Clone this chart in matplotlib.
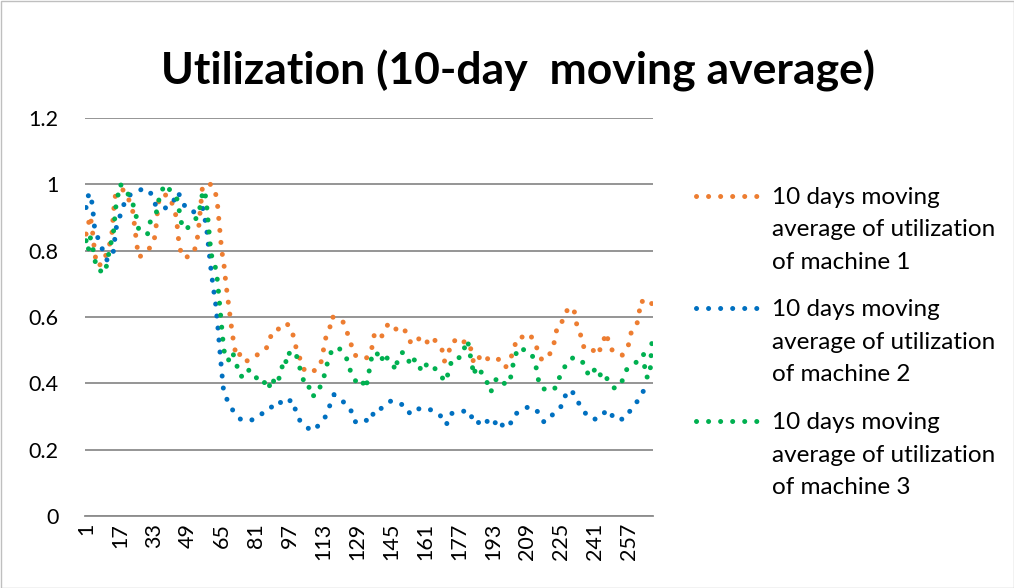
import matplotlib.pyplot as plt
from matplotlib.lines import Line2D
from matplotlib.patches import Rectangle

plt.rcParams['font.family'] = ['Lato', 'DejaVu Sans']

# 数据：10日移动平均利用率（从图上读取的折点）
title = 'Utilization (10-day  moving average)'
labels = ['10 days moving\naverage of utilization\nof machine 1',
          '10 days moving\naverage of utilization\nof machine 2',
          '10 days moving\naverage of utilization\nof machine 3']
colors = ['#ED7D31', '#0070C0', '#00B050']
n_days = 268
tick_days = list(range(1, 258, 16))

m1_days = [1, 3, 4, 5, 6, 9, 11, 13, 14, 15, 18, 20, 23, 24, 25, 26, 30, 33, 34, 35, 36, 40,
           43, 44, 45, 47, 51, 53, 54, 55, 56, 60, 62, 63, 64, 65, 66, 67, 68, 69, 70, 71, 72,
           74, 76, 78, 82, 85, 87, 88, 91, 93, 96, 98, 100, 101, 104, 107, 109, 112, 113, 114,
           116, 117, 119, 122, 124, 126, 127, 129, 131, 134, 136, 137, 140, 142, 144, 145, 148,
           151, 153, 155, 157, 160, 162, 164, 166, 169, 170, 172, 173, 176, 178, 180, 182, 183,
           184, 188, 191, 194, 196, 199, 201, 203, 204, 207, 210, 212, 214, 216, 218, 221, 222,
           223, 225, 226, 228, 231, 232, 233, 235, 236, 240, 242, 245, 246, 247, 249, 251, 254,
           257, 258, 261, 262, 263, 265, 267, 268]
m1_vals = [0.85, 0.905, 0.86, 0.80, 0.755, 0.76, 0.80, 0.835, 0.92, 0.975, 0.985, 0.975, 0.92,
           0.87, 0.815, 0.78, 0.80, 0.825, 0.87, 0.94, 0.967, 0.968, 0.92, 0.875, 0.81, 0.778,
           0.786, 0.815, 0.86, 0.93, 0.998, 1.0, 0.977, 0.94, 0.87, 0.80, 0.762, 0.70, 0.65, 0.60,
           0.55, 0.51, 0.478, 0.49, 0.468, 0.468, 0.487, 0.497, 0.515, 0.54, 0.566, 0.56, 0.578,
           0.563, 0.51, 0.49, 0.44, 0.447, 0.437, 0.466, 0.50, 0.535, 0.567, 0.602, 0.592, 0.589,
           0.557, 0.52, 0.49, 0.48, 0.474, 0.478, 0.51, 0.547, 0.534, 0.565, 0.582, 0.574, 0.56,
           0.567, 0.534, 0.517, 0.53, 0.542, 0.524, 0.54, 0.527, 0.50, 0.466, 0.486, 0.522, 0.532,
           0.519, 0.528, 0.52, 0.488, 0.458, 0.489, 0.471, 0.466, 0.474, 0.449, 0.471, 0.502,
           0.535, 0.54, 0.55, 0.532, 0.502, 0.471, 0.472, 0.50, 0.527, 0.56, 0.567, 0.60, 0.62,
           0.629, 0.595, 0.561, 0.538, 0.504, 0.502, 0.485, 0.519, 0.552, 0.537, 0.502, 0.489,
           0.485, 0.517, 0.55, 0.581, 0.615, 0.65, 0.637, 0.645, 0.64]

m2_days = [1, 2, 3, 4, 5, 7, 9, 11, 13, 14, 15, 18, 20, 24, 29, 32, 34, 38, 42, 44, 46, 48, 53,
           56, 57, 58, 59, 60, 61, 62, 63, 64, 65, 66, 69, 71, 74, 78, 82, 87, 89, 92, 94, 98,
           100, 102, 104, 107, 111, 114, 116, 118, 120, 124, 127, 128, 130, 131, 135, 137, 139,
           142, 145, 148, 151, 154, 157, 160, 163, 166, 168, 171, 173, 177, 181, 183, 185, 189,
           192, 196, 198, 201, 203, 206, 210, 214, 217, 219, 222, 225, 226, 230, 232, 235, 238,
           242, 246, 248, 250, 255, 258, 261, 264, 267, 268]
m2_vals = [0.93, 0.965, 0.973, 0.936, 0.87, 0.83, 0.80, 0.77, 0.785, 0.80, 0.864, 0.924, 0.96,
           0.978, 0.988, 0.97, 0.934, 0.927, 0.944, 0.977, 0.96, 0.927, 0.914, 0.93, 0.90, 0.86,
           0.80, 0.74, 0.69, 0.648, 0.585, 0.508, 0.436, 0.37, 0.333, 0.31, 0.291, 0.287, 0.296,
           0.327, 0.329, 0.347, 0.334, 0.351, 0.317, 0.286, 0.278, 0.256, 0.274, 0.30, 0.333,
           0.366, 0.353, 0.338, 0.307, 0.284, 0.29, 0.294, 0.284, 0.317, 0.315, 0.338, 0.347,
           0.337, 0.336, 0.307, 0.322, 0.325, 0.323, 0.307, 0.304, 0.275, 0.309, 0.311, 0.32,
           0.298, 0.276, 0.296, 0.27, 0.292, 0.266, 0.275, 0.307, 0.314, 0.331, 0.315, 0.284,
           0.286, 0.314, 0.329, 0.355, 0.381, 0.355, 0.325, 0.297, 0.291, 0.314, 0.32, 0.292,
           0.292, 0.32, 0.345, 0.377, 0.36, 0.36]

m3_days = [1, 2, 3, 4, 5, 6, 10, 11, 12, 14, 15, 16, 17, 20, 22, 24, 25, 26, 30, 31, 34, 35, 36,
           39, 41, 44, 45, 46, 48, 51, 54, 55, 56, 57, 58, 59, 60, 62, 63, 64, 65, 66, 68, 70,
           72, 73, 76, 78, 80, 82, 83, 86, 87, 89, 90, 93, 94, 96, 97, 100, 101, 103, 104, 106,
           107, 110, 112, 114, 115, 117, 119, 120, 123, 125, 126, 129, 131, 133, 134, 135, 136,
           138, 140, 142, 144, 146, 147, 148, 150, 152, 154, 155, 158, 159, 161, 163, 165, 168,
           171, 172, 174, 176, 178, 180, 181, 182, 183, 184, 185, 188, 190, 192, 193, 195, 197,
           199, 201, 202, 203, 205, 208, 211, 213, 214, 215, 219, 223, 224, 226, 228, 231, 234,
           237, 238, 241, 243, 244, 246, 250, 253, 255, 256, 259, 262, 264, 265, 267, 268]
m3_vals = [0.83, 0.80, 0.84, 0.815, 0.778, 0.745, 0.732, 0.768, 0.80, 0.86, 0.93, 0.965, 1.0,
           0.985, 0.95, 0.93, 0.89, 0.86, 0.85, 0.884, 0.91, 0.94, 0.977, 1.0, 0.977, 0.955,
           0.92, 0.884, 0.862, 0.884, 0.905, 0.94, 0.975, 0.982, 0.93, 0.86, 0.79, 0.75, 0.71,
           0.64, 0.567, 0.50, 0.467, 0.495, 0.46, 0.425, 0.417, 0.442, 0.425, 0.413, 0.398,
           0.404, 0.384, 0.417, 0.395, 0.425, 0.474, 0.461, 0.494, 0.494, 0.461, 0.427, 0.395,
           0.395, 0.361, 0.365, 0.399, 0.434, 0.466, 0.50, 0.506, 0.509, 0.485, 0.462, 0.427,
           0.40, 0.41, 0.384, 0.417, 0.452, 0.487, 0.495, 0.465, 0.492, 0.462, 0.455, 0.438,
           0.472, 0.493, 0.49, 0.455, 0.472, 0.467, 0.435, 0.453, 0.462, 0.45, 0.423, 0.405,
           0.439, 0.476, 0.476, 0.479, 0.515, 0.53, 0.495, 0.46, 0.424, 0.45, 0.43, 0.406, 0.373,
           0.394, 0.418, 0.41, 0.395, 0.407, 0.44, 0.474, 0.508, 0.50, 0.492, 0.46, 0.425, 0.391,
           0.376, 0.388, 0.413, 0.438, 0.465, 0.478, 0.473, 0.451, 0.421, 0.441, 0.446, 0.413,
           0.421, 0.386, 0.391, 0.426, 0.441, 0.452, 0.474, 0.489, 0.419, 0.419, 0.526]

series = [(m1_days, m1_vals), (m2_days, m2_vals), (m3_days, m3_vals)]

W, H = 1014, 588
fig = plt.figure(figsize=(W / 100, H / 100), dpi=100)
fig.add_artist(Rectangle((0.5 / W, 0.5 / H), 1 - 1 / W, 1 - 1 / H, transform=fig.transFigure,
                         fill=False, edgecolor='#bfbfbf', linewidth=1))

ax = fig.add_axes([85 / W, 1 - 516 / H, 568 / W, 398 / H])
dot_style = dict(linewidth=3.6, linestyle=(0, (0.01, 2.4)), dash_capstyle='round')
for (d, v), c in zip(series, colors):
    ax.plot(d, v, color=c, **dot_style)

ax.set_xlim(0.5, n_days + 0.5)
ax.set_ylim(0, 1.2)
ax.set_yticks([0, 0.2, 0.4, 0.6, 0.8, 1.0, 1.2])
ax.set_yticklabels(['0', '0.2', '0.4', '0.6', '0.8', '1', '1.2'])
ax.set_xticks(tick_days)
ax.set_xticklabels([str(t) for t in tick_days], rotation=90)
ax.tick_params(axis='both', length=0, labelsize=15.5, labelcolor='#000000')
ax.tick_params(axis='y', pad=19)
ax.tick_params(axis='x', pad=5)
ax.grid(axis='y', color='#8c8c8c', linewidth=1.3)
ax.set_axisbelow(True)
for s in ['top', 'right', 'left']:
    ax.spines[s].set_visible(False)
ax.spines['bottom'].set_color('#8c8c8c')
ax.spines['bottom'].set_linewidth(1.3)

fig.text(518 / W, 1 - 85 / H, title, ha='center', va='baseline', fontsize=32, fontweight='bold')

# 图例（手动放置）
for i, (lab, c) in enumerate(zip(labels, colors)):
    y0 = 195.7 + i * 112.7
    fig.add_artist(Line2D([696 / W, 757 / W], [1 - y0 / H] * 2, transform=fig.transFigure,
                          color=c, **dot_style))
    for j, line in enumerate(lab.split('\n')):
        fig.text(772 / W, 1 - (y0 + 7.8 + j * 32.6) / H, line, ha='left', va='baseline',
                 fontsize=17.5)

fig.savefig('out.png', dpi=100)
